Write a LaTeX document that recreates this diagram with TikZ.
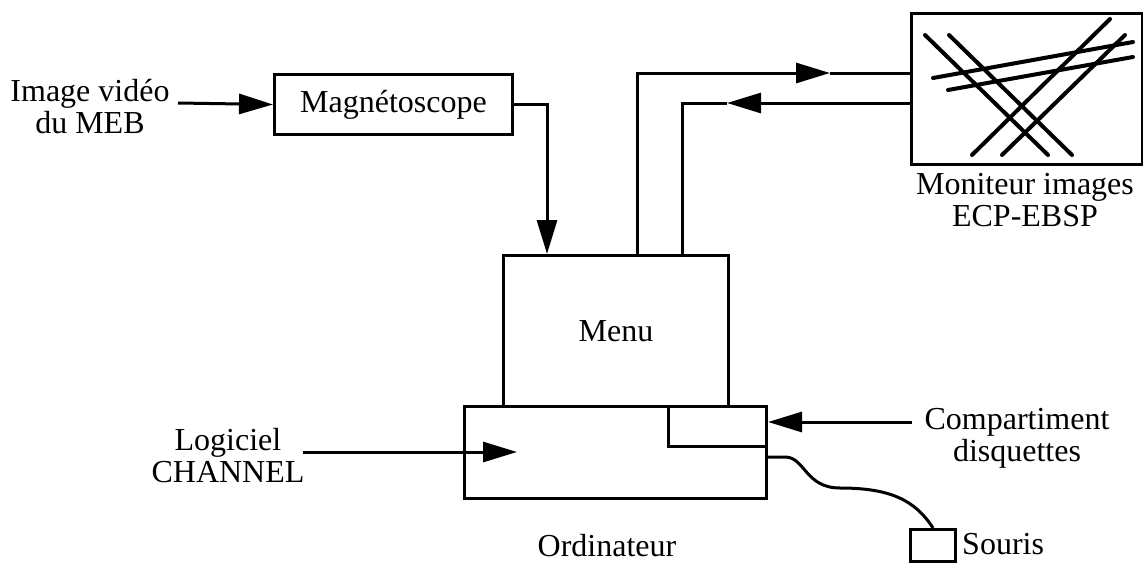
\documentclass[tikz,border=0pt]{standalone}
\usepackage{fontspec}
\setmainfont{Liberation Serif}
\usetikzlibrary{arrows.meta,calc}
\begin{document}
\begin{tikzpicture}[x=1pt,y=-1pt,
  every node/.style={font=\fontsize{32}{32}\selectfont},
  boxn/.style={draw,line width=3pt,inner sep=0pt,anchor=north west},
  txt/.style={align=center,inner sep=0pt},
  conn/.style={line width=3pt},
  arr/.style={line width=3pt,-{Triangle[length=34pt,width=20pt]}},
  scr/.style={line width=4pt,line cap=round}]
\useasboundingbox (0,0) rectangle (1143,565);
% boxes
\node[boxn,minimum width=238pt,minimum height=60pt] (magneto) at (273,73) {Magnétoscope};
\node[boxn,minimum width=225pt,minimum height=151pt] (menu) at (502,254) {Menu};
\node[boxn,minimum width=302pt,minimum height=92pt] (ordi) at (463,405) {};
\node[boxn,minimum width=98pt,minimum height=40pt] (comp) at (667,405) {};
\node[boxn,minimum width=231pt,minimum height=151pt] (monitor) at (910,12) {};
\node[boxn,minimum width=45pt,minimum height=32pt] (mouse) at (909,528) {};
% labels
\node[txt] (imgtxt) at (90,107) {Image vidéo\\du MEB};
\node[txt] (logtxt) at (228,456) {Logiciel\\CHANNEL};
\node[txt] (comptxt) at (1017,438) {Compartiment\\disquettes};
\node[txt] (montxt) at (1025,200) {Moniteur images\\ECP-EBSP};
\node[txt] (orditxt) at (607,546) {Ordinateur};
\node[txt,anchor=west] (souristxt) at (962,544) {Souris};
% coordinates
\coordinate (a1) at (178,103);
\coordinate (l1) at (303,452);
\coordinate (l2) at (517,452);
\coordinate (c1) at (912,422);
\coordinate (t1) at (830,73);
\coordinate (t2) at (727,103);
% connectors
\draw[arr] (a1) -- (magneto.west);
\draw[arr] (magneto.east) -| ($(menu.north west)+(45,0)$);
\draw[arr] ($(menu.north west)+(135,0)$) |- (t1);
\draw[conn] (t1) -- (monitor.west |- t1);
\draw[arr] (monitor.west |- t2) -- (t2);
\draw[conn] (t2) -| ($(menu.north west)+(180,0)$);
\draw[arr] (l1) -- (l2);
\draw[arr] (c1) -- (comp.east |- c1);
\draw[conn] (ordi.east |- 0,457) -- (785,457) .. controls (805,457) and (805,488) .. (840,488)
  .. controls (890,488) and (915,500) .. (mouse.north);
% monitor screen lines
\draw[scr] (925,35) -- (1048,155);
\draw[scr] (949,35) -- (1072,155);
\draw[scr] (972,155) -- (1110,19);
\draw[scr] (1002,155) -- (1125,35);
\draw[scr] (933,78) -- (1133,42);
\draw[scr] (948,90) -- (1133,57);
\end{tikzpicture}
\end{document}
